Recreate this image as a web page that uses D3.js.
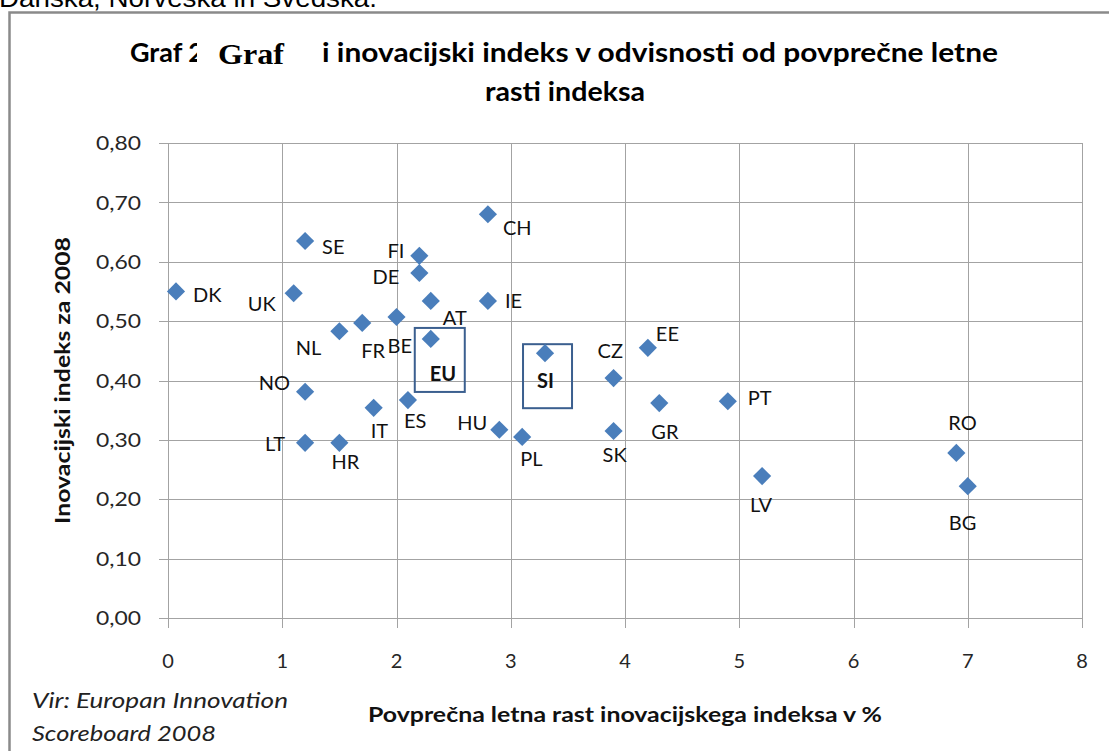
<!DOCTYPE html>
<html>
<head>
<meta charset="utf-8">
<script src="https://cdn.jsdelivr.net/npm/d3@7"></script>
<style>
  html, body { margin: 0; padding: 0; background: #fff; }
  svg { display: block; }
</style>
</head>
<body>
<svg id="chart" width="1109" height="751"></svg>
<script>
// ---------- DATA ----------
const countries = ["DK","SE","UK","NL","FR","BE","FI","DE","AT","EU","IE","CH","NO","IT","ES","LT","HR","HU","PL","SI","CZ","EE","GR","SK","PT","LV","RO","BG"];
const growth    = [0.07, 1.2, 1.1, 1.5, 1.7, 2.0, 2.2, 2.2, 2.3, 2.3, 2.8, 2.8, 1.2, 1.8, 2.1, 1.2, 1.5, 2.9, 3.1, 3.3, 3.9, 4.2, 4.3, 3.9, 4.9, 5.2, 6.9, 7.0];
const index2008 = [0.55, 0.635, 0.547, 0.483, 0.497, 0.507, 0.61, 0.581, 0.534, 0.47, 0.534, 0.68, 0.381, 0.354, 0.367, 0.295, 0.295, 0.317, 0.305, 0.446, 0.404, 0.455, 0.362, 0.315, 0.365, 0.239, 0.278, 0.222];
const highlighted = ["EU","SI"];
const xTicks = [0,1,2,3,4,5,6,7,8];
const yTicks = [0,0.1,0.2,0.3,0.4,0.5,0.6,0.7,0.8];
const titleLine1 = "i inovacijski indeks v odvisnosti od povprečne letne";
const titleLine2 = "rasti indeksa";
const xTitle = "Povprečna letna rast inovacijskega indeksa v %";
const yTitle = "Inovacijski indeks za 2008";
const sourceLines = ["Vir: Europan Innovation", "Scoreboard 2008"];
const topText = "Danska, Norveška in Švedska.";

// ---------- LAYOUT (label placement, px relative to marker) ----------
const labelLayout = {
  DK:[17,3,"start"], SE:[17,6,"start"], UK:[-18,11,"end"], NL:[-18,17,"end"],
  FR:[-1,28,"start"], BE:[-9,29,"start"], FI:[-15,-5,"end"], DE:[-20,4,"end"],
  AT:[12,17,"start"], EU:[-1,35,"start"], IE:[17,0,"start"], CH:[15,14,"start"],
  NO:[-15,-9,"end"], IT:[-3,23,"start"], ES:[-4,21,"start"], LT:[-20,1,"end"],
  HR:[-8,19,"start"], HU:[-12,-7,"end"], PL:[-2,22,"start"], SI:[-8,28,"start"],
  CZ:[-16,-27,"start"], EE:[8,-14,"start"], GR:[-8,29,"start"], SK:[-11,24,"start"],
  PT:[20,-3,"start"], LV:[-12,29,"start"], RO:[-8,-30,"start"], BG:[-19,37,"start"]
};
const boxLayout = { EU:[-16,-11,50,64], SI:[-22,-9,49,64] };

(function(){
const data = countries.map((c,i)=>({c, x:growth[i], y:index2008[i]}));

const svg = d3.select("#chart");
const FONT = "Lato, 'Open Sans', sans-serif";
const pL = 168, pR = 1082, pT = 143, pB = 618;

const x = d3.scaleLinear().domain([0,8]).range([pL,pR]);
const y = d3.scaleLinear().domain([0,0.8]).range([pB,pT]);

// text cut off at the top
svg.append("text").attr("x",-1).attr("y",7)
  .attr("font-family","'Liberation Sans', Arial, sans-serif").attr("font-size",26)
  .attr("textLength",378).attr("lengthAdjust","spacingAndGlyphs")
  .attr("fill","#000").text(topText);

// outer frame
svg.append("path").attr("d","M9.5,760 L9.5,12.5 L1120,12.5")
  .attr("fill","none").attr("stroke","#8a8a8a").attr("stroke-width",2.5);

// title
svg.append("text").attr("x",130).attr("y",62).attr("font-family",FONT)
  .attr("font-weight","bold").attr("font-size",26).attr("fill","#000")
  .attr("textLength",74).attr("lengthAdjust","spacingAndGlyphs").text("Graf 2");
svg.append("rect").attr("x",197).attr("y",30).attr("width",121).attr("height",42).attr("fill","#fff");
svg.append("text").attr("x",218).attr("y",64).attr("font-family","'Liberation Serif', 'Times New Roman', serif")
  .attr("font-weight","bold").attr("font-size",30).attr("fill","#000")
  .attr("textLength",66).attr("lengthAdjust","spacingAndGlyphs").text("Graf");
svg.append("text").attr("x",322).attr("y",62).attr("font-family",FONT)
  .attr("font-weight","bold").attr("font-size",26).attr("fill","#000")
  .attr("textLength",676).attr("lengthAdjust","spacingAndGlyphs").text(titleLine1);
svg.append("text").attr("x",565).attr("y",101).attr("text-anchor","middle").attr("font-family",FONT)
  .attr("font-weight","bold").attr("font-size",26).attr("fill","#000")
  .attr("textLength",160).attr("lengthAdjust","spacingAndGlyphs").text(titleLine2);

// grid
const grid = svg.append("g").attr("stroke","#a3a3a3").attr("stroke-width",1).attr("shape-rendering","crispEdges");
grid.selectAll("line.h").data(yTicks).join("line").attr("class","h")
  .attr("x1",pL-9).attr("x2",pR).attr("y1",d=>Math.round(y(d))+0.5).attr("y2",d=>Math.round(y(d))+0.5);
grid.selectAll("line.v").data(xTicks).join("line").attr("class","v")
  .attr("x1",d=>Math.round(x(d))+0.5).attr("x2",d=>Math.round(x(d))+0.5).attr("y1",pT).attr("y2",pB+10);

// axes labels
const fmt = d3.format(".2f");
svg.append("g").selectAll("text").data(yTicks).join("text")
  .attr("x",141).attr("y",d=>y(d)).attr("dy","0.36em").attr("text-anchor","end")
  .attr("font-family",FONT).attr("font-size",20).attr("fill","#262626")
  .attr("textLength",45).attr("lengthAdjust","spacingAndGlyphs")
  .text(d=>fmt(d).replace(".",","));
svg.append("g").selectAll("text").data(xTicks).join("text")
  .attr("x",d=>x(d)).attr("y",661).attr("dy","0.36em").attr("text-anchor","middle")
  .attr("font-family",FONT).attr("font-size",20).attr("fill","#262626").text(d=>d);

svg.append("text").attr("x",(pL+pR)/2).attr("y",714).attr("dy","0.36em").attr("text-anchor","middle")
  .attr("font-family",FONT).attr("font-weight","bold").attr("font-size",21).attr("fill","#111")
  .attr("textLength",514).attr("lengthAdjust","spacingAndGlyphs").text(xTitle);
svg.append("text").attr("transform",`translate(62,${(pT+pB)/2}) rotate(-90)`).attr("dy","0.36em")
  .attr("text-anchor","middle").attr("font-family",FONT).attr("font-weight","bold").attr("font-size",21)
  .attr("textLength",287).attr("lengthAdjust","spacingAndGlyphs")
  .attr("fill","#111").text(yTitle);

const srcW = [256, 184];
svg.append("g").selectAll("text").data(sourceLines).join("text")
  .attr("x",32).attr("y",(d,i)=>700+i*33).attr("dy","0.36em").attr("font-family",FONT).attr("font-style","italic")
  .attr("font-size",21).attr("fill","#222")
  .attr("textLength",(d,i)=>srcW[i]).attr("lengthAdjust","spacingAndGlyphs").text(d=>d);

// boxes around highlighted points
svg.append("g").selectAll("rect").data(data.filter(d=>highlighted.includes(d.c))).join("rect")
  .attr("x",d=>x(d.x)+boxLayout[d.c][0]).attr("y",d=>y(d.y)+boxLayout[d.c][1])
  .attr("width",d=>boxLayout[d.c][2]).attr("height",d=>boxLayout[d.c][3])
  .attr("fill","none").attr("stroke","#3b5f8f").attr("stroke-width",2);

// markers
const sym = d3.symbol().type(d3.symbolSquare).size(165);
svg.append("g").selectAll("path").data(data).join("path")
  .attr("transform",d=>`translate(${x(d.x)},${y(d.y)}) rotate(45)`)
  .attr("d",sym).attr("fill","#4a7ebb");

// labels
svg.append("g").selectAll("text").data(data).join("text")
  .attr("x",d=>x(d.x)+labelLayout[d.c][0]).attr("y",d=>y(d.y)+labelLayout[d.c][1])
  .attr("dy","0.36em").attr("text-anchor",d=>labelLayout[d.c][2])
  .attr("font-family",FONT).attr("font-size",20)
  .attr("font-weight",d=>highlighted.includes(d.c)?"bold":"normal")
  .attr("fill","#111").text(d=>d.c);
})();
</script>
</body>
</html>
